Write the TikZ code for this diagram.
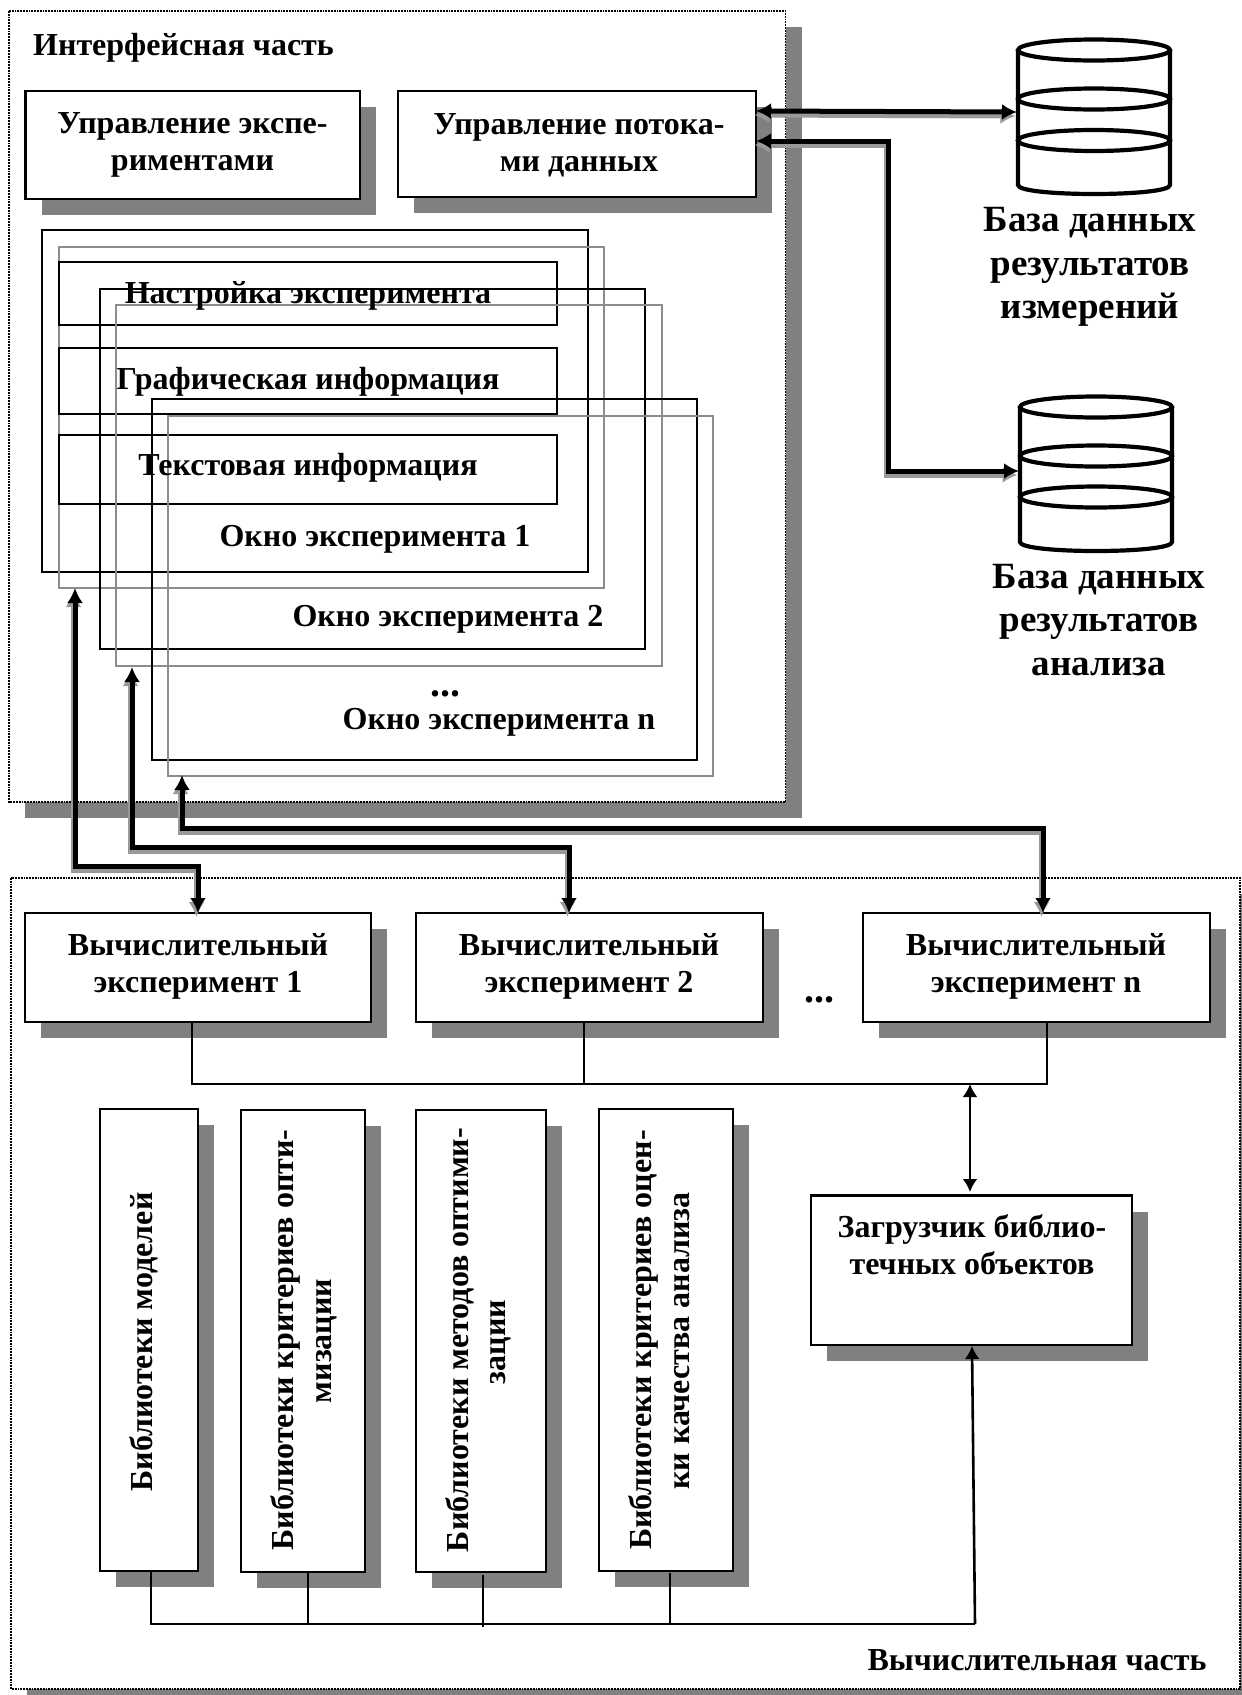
\documentclass[tikz,border=0pt]{standalone}
\usepackage{fontspec}
\setmainfont{Liberation Serif}
\usetikzlibrary{arrows.meta}
\definecolor{shadowgray}{gray}{0.5}
\definecolor{framegray}{gray}{0.55}
\newcommand{\tfont}[2]{\fontsize{#1}{#2}\selectfont\bfseries}
\tikzset{
  x=1pt,y=-1pt,
  lab/.style={inner sep=0pt,align=center,font=\tfont{32}{37}},
  txtline/.style={inner sep=0pt,font=\tfont{32}{37}},
  dotline/.style={inner sep=0pt,font=\tfont{40}{40}},
  dblab/.style={inner sep=0pt,align=center,font=\tfont{37}{43.4}},
  boxw/.style={draw=black,line width=2.2pt,fill=white},
  shade/.style={fill=shadowgray,draw=none},
  framed/.style={draw=black,line width=1.8pt,densely dotted},
  winb/.style={draw=black,line width=2pt},
  wing/.style={draw=framegray,line width=2pt},
  inner/.style={draw=black,line width=2.2pt},
  thickdbl/.style={draw=black,line width=5pt,{Latex[length=15pt,width=16pt]}-{Latex[length=15pt,width=16pt]},
    preaction={draw=shadowgray!80,line width=5pt,{Latex[length=15pt,width=16pt]}-{Latex[length=15pt,width=16pt]},transform canvas={xshift=-1.5pt,yshift=-4pt}}},
  bus/.style={draw=black,line width=2.6pt},
  thinarrow/.style={draw=black,line width=2.6pt,{Latex[length=13pt,width=15pt]}-{Latex[length=13pt,width=15pt]}},
  thinone/.style={draw=black,line width=2.6pt,-{Latex[length=13pt,width=15pt]}},
  cyl/.style={draw=black,line width=4.2pt},
}
\newcommand{\shbox}[5]{% name x1 y1 x2 y2
  \fill[shade] (#2+16,#3+16) rectangle (#4+16,#5+16);
  \draw[boxw] (#2,#3) rectangle (#4,#5);
  \coordinate (#1) at (#2,#3);
}
\newcommand{\cylinder}[7]{% x1 x2 ytop ym1 ym2 ysideend ybot
  \draw[cyl] (#1,#3) -- (#1,#6) .. controls (#1,#7+1) and (#2,#7+1) .. (#2,#6) -- (#2,#3);
  \draw[cyl] ({(#1+#2)/2},#3) ellipse [x radius={(#2-#1)/2},y radius=10.5];
  \draw[cyl] ({(#1+#2)/2},#4) ellipse [x radius={(#2-#1)/2},y radius=10.5];
  \draw[cyl] ({(#1+#2)/2},#5) ellipse [x radius={(#2-#1)/2},y radius=10.5];
}
\begin{document}
\begin{tikzpicture}
\useasboundingbox (0,0) rectangle (1242,1695);
\fill[white] (0,0) rectangle (1242,1695);
\begin{scope}
\clip (0,0) rectangle (1242,1695);
% interface panel
\fill[shade] (25,27) rectangle (802,818);
\draw[framed,fill=white] (9,11) rectangle (785.5,802);
\node[txtline,anchor=base west] (ititle) at (33,55) {Интерфейсная часть};
% top boxes
\shbox{ctlexp}{25.5}{91}{360}{199}
\node[lab,anchor=center] (texp) at (192.5,145) {Управление экспе-\\риментами};
\shbox{ctlflow}{398}{91}{756}{197}
\node[lab,anchor=center] (tflow) at (579,145) {Управление потока-\\ми данных};
\coordinate (flowA) at (756,111);
\coordinate (flowB) at (756,141);
% windows
\draw[winb] (42,230) rectangle (588,572);
\draw[wing] (59,247) rectangle (604,588);
\draw[inner] (59,262) rectangle (557,325);
\draw[inner] (59,348) rectangle (557,414);
\draw[inner] (59,435) rectangle (557,504);
\draw[winb] (100,289) rectangle (645,649);
\draw[wing] (116,305) rectangle (662,666);
\draw[winb] (152,399) rectangle (697,760);
\draw[wing] (168,416) rectangle (713,776);
\node[txtline] (t1) at (308,296) {Настройка эксперимента};
\node[txtline] (t2) at (308,382) {Графическая информация};
\node[txtline] (t3) at (308,468) {Текстовая информация};
\node[txtline] (w1) at (375,539) {Окно эксперимента 1};
\node[txtline] (w2) at (448,619) {Окно эксперимента 2};
\node[dotline,anchor=base] (wdots) at (445,696) {...};
\node[txtline] (wn) at (499,722) {Окно эксперимента n};
\coordinate (win1) at (75,588);
\coordinate (win2) at (132,667);
\coordinate (winn) at (182,775);
% databases
\cylinder{1018}{1170}{50}{99}{140.5}{185}{196}
\cylinder{1020}{1172}{407}{456}{497}{542}{553}
\coordinate (dbA) at (1017,112);
\coordinate (dbB) at (1019,471);
\node[dblab] (dbt1) at (1090,267) {База данных\\результатов\\измерений};
\node[dblab] (dbt2) at (1099,620) {База данных\\результатов\\анализа};
% bottom panel
\fill[shade] (27,894) rectangle (1256,1705);
\draw[framed,fill=white] (11,878) rectangle (1240,1689);
\node[txtline] (ctitle) at (1037,1660) {Вычислительная часть};
% experiment boxes
\shbox{ex1}{25}{913}{371}{1022}
\shbox{ex2}{416}{913}{763}{1022}
\shbox{exn}{863}{913}{1210}{1022}
\node[lab] (tex1) at (198,966) {Вычислительный\\эксперимент 1};
\node[lab] (tex2) at (589,966) {Вычислительный\\эксперимент 2};
\node[lab] (texn) at (1036,966) {Вычислительный\\эксперимент n};
\node[dotline,anchor=base] (exdots) at (819,1002) {...};
\coordinate (in1) at (198,913);
\coordinate (in2) at (569,913);
\coordinate (inn) at (1043,913);
% thick arrows
\draw[thickdbl] (flowA) -- (dbA);
\draw[thickdbl] (flowB) -- (888,141) -- (888,471) -- (dbB);
\draw[thickdbl] (win1) -- (75,866) -- (198,866) -- (in1);
\draw[thickdbl] (win2) -- (132,847) -- (569,847) -- (in2);
\draw[thickdbl] (winn) -- (182,828) -- (1043,828) -- (inn);
% bus under experiments
\coordinate (busE1) at (192,1084);
\coordinate (busE2) at (584,1084);
\coordinate (busEn) at (1047,1084);
\draw[bus] (192,1022) -- (busE1) -- (busEn) -- (1047,1022);
\draw[bus] (584,1022) -- (busE2);
% loader
\shbox{loader}{811}{1195.5}{1132}{1345}
\node[lab] (tload) at (972,1245) {Загрузчик библио-\\течных объектов};
\draw[thinarrow] (970,1084) -- (970,1192);
% library boxes
\shbox{lib1}{100}{1109}{198}{1571}
\shbox{lib2}{241}{1110}{365}{1572}
\shbox{lib3}{416}{1110}{546}{1572}
\shbox{lib4}{599}{1109}{733}{1571}
\node[txtline,rotate=90,anchor=base] (l1) at (152,1342) {Библиотеки моделей};
\node[txtline,rotate=90,anchor=base] (l2a) at (293,1340) {Библиотеки критериев опти-};
\node[txtline,rotate=90,anchor=base] (l2b) at (331,1341) {мизации};
\node[txtline,rotate=90,anchor=base] (l3a) at (468,1340) {Библиотеки методов оптими-};
\node[txtline,rotate=90,anchor=base] (l3b) at (505,1342) {зации};
\node[txtline,rotate=90,anchor=base] (l4a) at (651,1340) {Библиотеки критериев оцен-};
\node[txtline,rotate=90,anchor=base] (l4b) at (689,1341) {ки качества анализа};
% library bus
\draw[bus] (151,1571) -- (151,1624) -- (975,1624);
\draw[bus] (308,1572) -- (308,1624);
\draw[bus] (483,1575) -- (483,1627);
\draw[bus] (670,1573) -- (670,1624);
\draw[thinone] (975,1624) -- (972,1346);
\end{scope}
\end{tikzpicture}
\end{document}
